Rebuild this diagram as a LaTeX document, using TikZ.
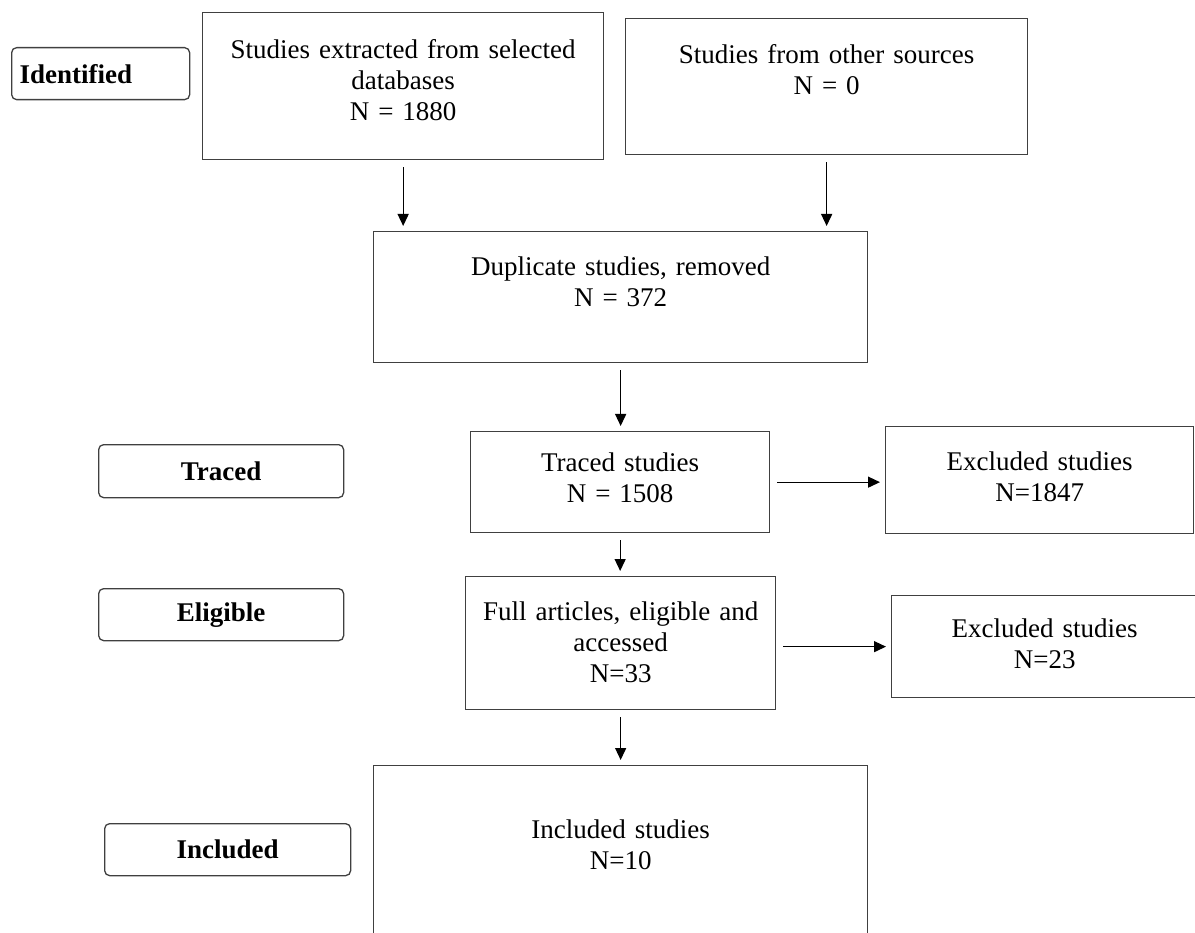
\documentclass[tikz,border=0pt]{standalone}
\usepackage{fontspec}
\setmainfont{Liberation Serif}
\usetikzlibrary{arrows.meta}

\begin{document}
\begin{tikzpicture}[x=1pt,y=-1pt,font=\fontsize{27}{31}\selectfont]
\tikzstyle{stage}=[draw=black!75,line width=1.3pt,rounded corners=5pt,anchor=north west,align=center,inner sep=0pt,minimum height=52pt,font=\fontsize{27}{31}\selectfont\bfseries]
\tikzstyle{block}=[draw=black!75,line width=1.3pt,anchor=north west,align=center,inner sep=0pt]
\tikzstyle{flow}=[line width=1.3pt,-{Triangle[length=12pt,width=11pt]},shorten <=7pt,shorten >=5pt]
\path[use as bounding box,clip] (0,0) rectangle (1195,933);
\path (11,47) node[stage,text width=162pt,inner xsep=8pt,align=left](lid){Identified};
\path (98,444) node[stage,text width=245pt,minimum height=53pt](ltr){Traced};
\path (98,588) node[stage,text width=245pt](lel){Eligible};
\path (104,823) node[stage,text width=246pt](lin){Included};

\path (202,12) node[block,text width=401pt,text height=46pt,text depth=101pt](db){Studies extracted from selected\\databases\\N = 1880};
\path (625,18) node[block,text width=402pt,text height=45pt,text depth=91pt](other){Studies from other sources\\N = 0};
\path (373,231) node[block,text width=494pt,text height=44pt,text depth=87pt](dup){Duplicate studies, removed\\N = 372};
\path (470,431) node[block,text width=299pt,text height=40pt,text depth=61pt](traced){Traced studies\\N = 1508};
\path (885,426) node[block,text width=308pt,text height=44pt,text depth=63pt](exa){Excluded studies\\N=1847};
\path (465,576) node[block,text width=310pt,text height=44pt,text depth=89pt](full){Full articles, eligible and\\accessed\\N=33};
\path (891,595) node[block,text width=306pt,text height=42pt,text depth=60pt](exb){Excluded studies\\N=23};
\path (373,765) node[block,text width=494pt,text height=73pt,text depth=200pt](incl){Included studies\\N=10};

\draw[flow] (db.south) -- (db.south |- dup.north);
\draw[flow] (other.south) -- (other.south |- dup.north);
\draw[flow] (dup.south) -- (dup.south |- traced.north);
\draw[flow] (traced.south) -- (traced.south |- full.north);
\draw[flow] (full.south) -- (full.south |- incl.north);
\draw[flow] (traced.east) -- (traced.east -| exa.west);
\draw[flow] (full.east |- exb.west) -- (exb.west);
\end{tikzpicture}
\end{document}
